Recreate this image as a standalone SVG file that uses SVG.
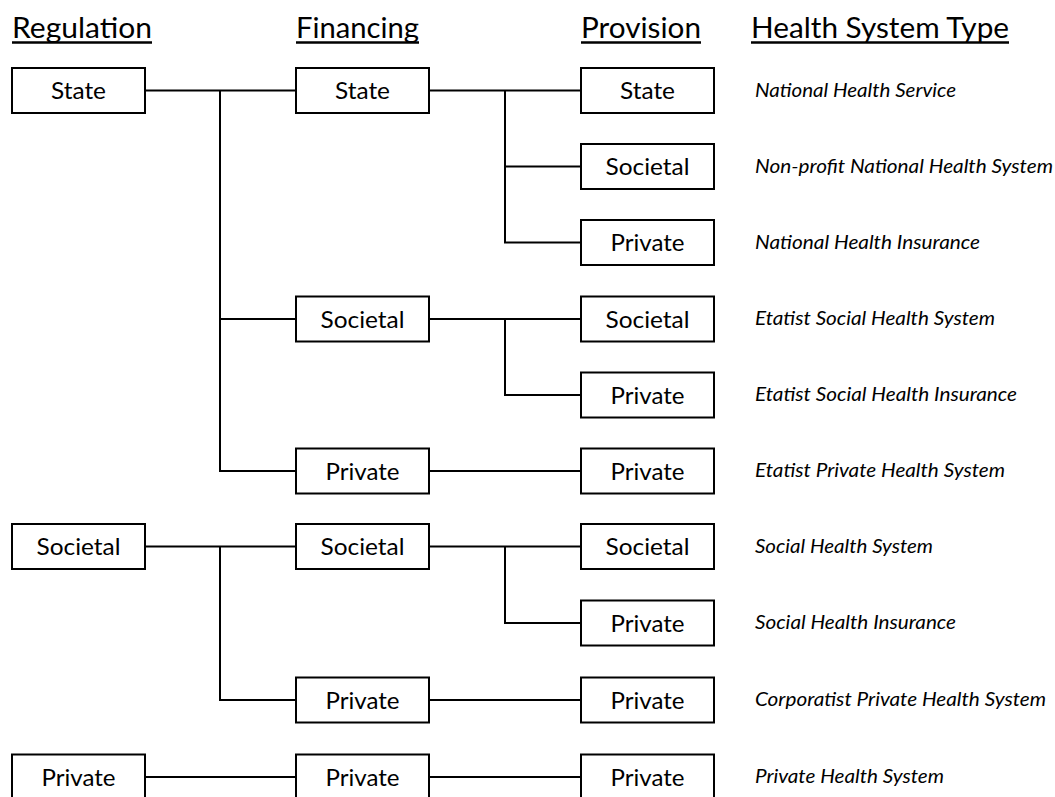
<svg xmlns="http://www.w3.org/2000/svg" width="1055" height="797" viewBox="0 0 1055 797">
<style>
.box{fill:#fff;stroke:#000;stroke-width:2}
.lbl{font-family:Lato,"Open Sans","Liberation Sans",sans-serif;font-size:24px;fill:#000;text-anchor:middle}
.hdr{font-family:Lato,"Open Sans","Liberation Sans",sans-serif;font-size:29px;fill:#000}
.typ{font-family:Lato,"Open Sans","Liberation Sans",sans-serif;font-size:19.5px;font-style:italic;fill:#000}
.ul{stroke:#000;stroke-width:2.5}
.con{stroke:#000;stroke-width:2;fill:none}
</style>
<rect width="1055" height="797" fill="#fff"/>
<g id="headers">
<text class="hdr" x="12" y="38" textLength="140" lengthAdjust="spacingAndGlyphs">Regulation</text>
<line class="ul" x1="12" y1="42.5" x2="152" y2="42.5"/>
<text class="hdr" x="296" y="38" textLength="123" lengthAdjust="spacingAndGlyphs">Financing</text>
<line class="ul" x1="296" y1="42.5" x2="419" y2="42.5"/>
<text class="hdr" x="581" y="38" textLength="120" lengthAdjust="spacingAndGlyphs">Provision</text>
<line class="ul" x1="581" y1="42.5" x2="701" y2="42.5"/>
<text class="hdr" x="751" y="38" textLength="258" lengthAdjust="spacingAndGlyphs">Health System Type</text>
<line class="ul" x1="751" y1="42.5" x2="1009" y2="42.5"/>
</g>
<g id="connectors">
<path class="con" d="M145 90.5H296M220 90.5V471H296M220 319H296"/>
<path class="con" d="M145 546.5H296M220 546.5V700H296"/>
<path class="con" d="M145 777H296"/>
<path class="con" d="M429 90.5H581M505 90.5V242.5H581M505 166.5H581"/>
<path class="con" d="M429 319H581M505 319V395H581"/>
<path class="con" d="M429 471H581"/>
<path class="con" d="M429 546.5H581M505 546.5V623H581"/>
<path class="con" d="M429 700H581"/>
<path class="con" d="M429 777H581"/>
</g>
<g id="reg-state"><rect class="box" x="12" y="68" width="133" height="45"/><text class="lbl" x="78.5" y="99" textLength="55" lengthAdjust="spacingAndGlyphs">State</text></g>
<g id="reg-societal"><rect class="box" x="12" y="524" width="133" height="45"/><text class="lbl" x="78.5" y="555" textLength="84" lengthAdjust="spacingAndGlyphs">Societal</text></g>
<g id="reg-private"><rect class="box" x="12" y="754.5" width="133" height="45"/><text class="lbl" x="78.5" y="785.5" textLength="74" lengthAdjust="spacingAndGlyphs">Private</text></g>

<g id="fin-state"><rect class="box" x="296" y="68" width="133" height="45"/><text class="lbl" x="362.5" y="99" textLength="55" lengthAdjust="spacingAndGlyphs">State</text></g>
<g id="fin-state-societal"><rect class="box" x="296" y="296.5" width="133" height="45"/><text class="lbl" x="362.5" y="327.5" textLength="84" lengthAdjust="spacingAndGlyphs">Societal</text></g>
<g id="fin-state-private"><rect class="box" x="296" y="448.5" width="133" height="45"/><text class="lbl" x="362.5" y="479.5" textLength="74" lengthAdjust="spacingAndGlyphs">Private</text></g>
<g id="fin-soc-societal"><rect class="box" x="296" y="524" width="133" height="45"/><text class="lbl" x="362.5" y="555" textLength="84" lengthAdjust="spacingAndGlyphs">Societal</text></g>
<g id="fin-soc-private"><rect class="box" x="296" y="677.5" width="133" height="45"/><text class="lbl" x="362.5" y="708.5" textLength="74" lengthAdjust="spacingAndGlyphs">Private</text></g>
<g id="fin-private"><rect class="box" x="296" y="754.5" width="133" height="45"/><text class="lbl" x="362.5" y="785.5" textLength="74" lengthAdjust="spacingAndGlyphs">Private</text></g>

<g id="prov-1"><rect class="box" x="581" y="68" width="133" height="45"/><text class="lbl" x="647.5" y="99" textLength="55" lengthAdjust="spacingAndGlyphs">State</text></g>
<g id="prov-2"><rect class="box" x="581" y="144" width="133" height="45"/><text class="lbl" x="647.5" y="175" textLength="84" lengthAdjust="spacingAndGlyphs">Societal</text></g>
<g id="prov-3"><rect class="box" x="581" y="220" width="133" height="45"/><text class="lbl" x="647.5" y="251" textLength="74" lengthAdjust="spacingAndGlyphs">Private</text></g>
<g id="prov-4"><rect class="box" x="581" y="296.5" width="133" height="45"/><text class="lbl" x="647.5" y="327.5" textLength="84" lengthAdjust="spacingAndGlyphs">Societal</text></g>
<g id="prov-5"><rect class="box" x="581" y="372.5" width="133" height="45"/><text class="lbl" x="647.5" y="403.5" textLength="74" lengthAdjust="spacingAndGlyphs">Private</text></g>
<g id="prov-6"><rect class="box" x="581" y="448.5" width="133" height="45"/><text class="lbl" x="647.5" y="479.5" textLength="74" lengthAdjust="spacingAndGlyphs">Private</text></g>
<g id="prov-7"><rect class="box" x="581" y="524" width="133" height="45"/><text class="lbl" x="647.5" y="555" textLength="84" lengthAdjust="spacingAndGlyphs">Societal</text></g>
<g id="prov-8"><rect class="box" x="581" y="600.5" width="133" height="45"/><text class="lbl" x="647.5" y="631.5" textLength="74" lengthAdjust="spacingAndGlyphs">Private</text></g>
<g id="prov-9"><rect class="box" x="581" y="677.5" width="133" height="45"/><text class="lbl" x="647.5" y="708.5" textLength="74" lengthAdjust="spacingAndGlyphs">Private</text></g>
<g id="prov-10"><rect class="box" x="581" y="754.5" width="133" height="45"/><text class="lbl" x="647.5" y="785.5" textLength="74" lengthAdjust="spacingAndGlyphs">Private</text></g>

<g id="types">
<text class="typ" x="755" y="97" textLength="201" lengthAdjust="spacingAndGlyphs">National Health Service</text>
<text class="typ" x="755" y="172.5" textLength="298" lengthAdjust="spacingAndGlyphs">Non-profit National Health System</text>
<text class="typ" x="755" y="248.5" textLength="225" lengthAdjust="spacingAndGlyphs">National Health Insurance</text>
<text class="typ" x="755" y="325" textLength="240" lengthAdjust="spacingAndGlyphs">Etatist Social Health System</text>
<text class="typ" x="755" y="401" textLength="262" lengthAdjust="spacingAndGlyphs">Etatist Social Health Insurance</text>
<text class="typ" x="755" y="477" textLength="250" lengthAdjust="spacingAndGlyphs">Etatist Private Health System</text>
<text class="typ" x="755" y="552.5" textLength="178" lengthAdjust="spacingAndGlyphs">Social Health System</text>
<text class="typ" x="755" y="629" textLength="201" lengthAdjust="spacingAndGlyphs">Social Health Insurance</text>
<text class="typ" x="755" y="706" textLength="291" lengthAdjust="spacingAndGlyphs">Corporatist Private Health System</text>
<text class="typ" x="755" y="783" textLength="189" lengthAdjust="spacingAndGlyphs">Private Health System</text>
</g>
</svg>
